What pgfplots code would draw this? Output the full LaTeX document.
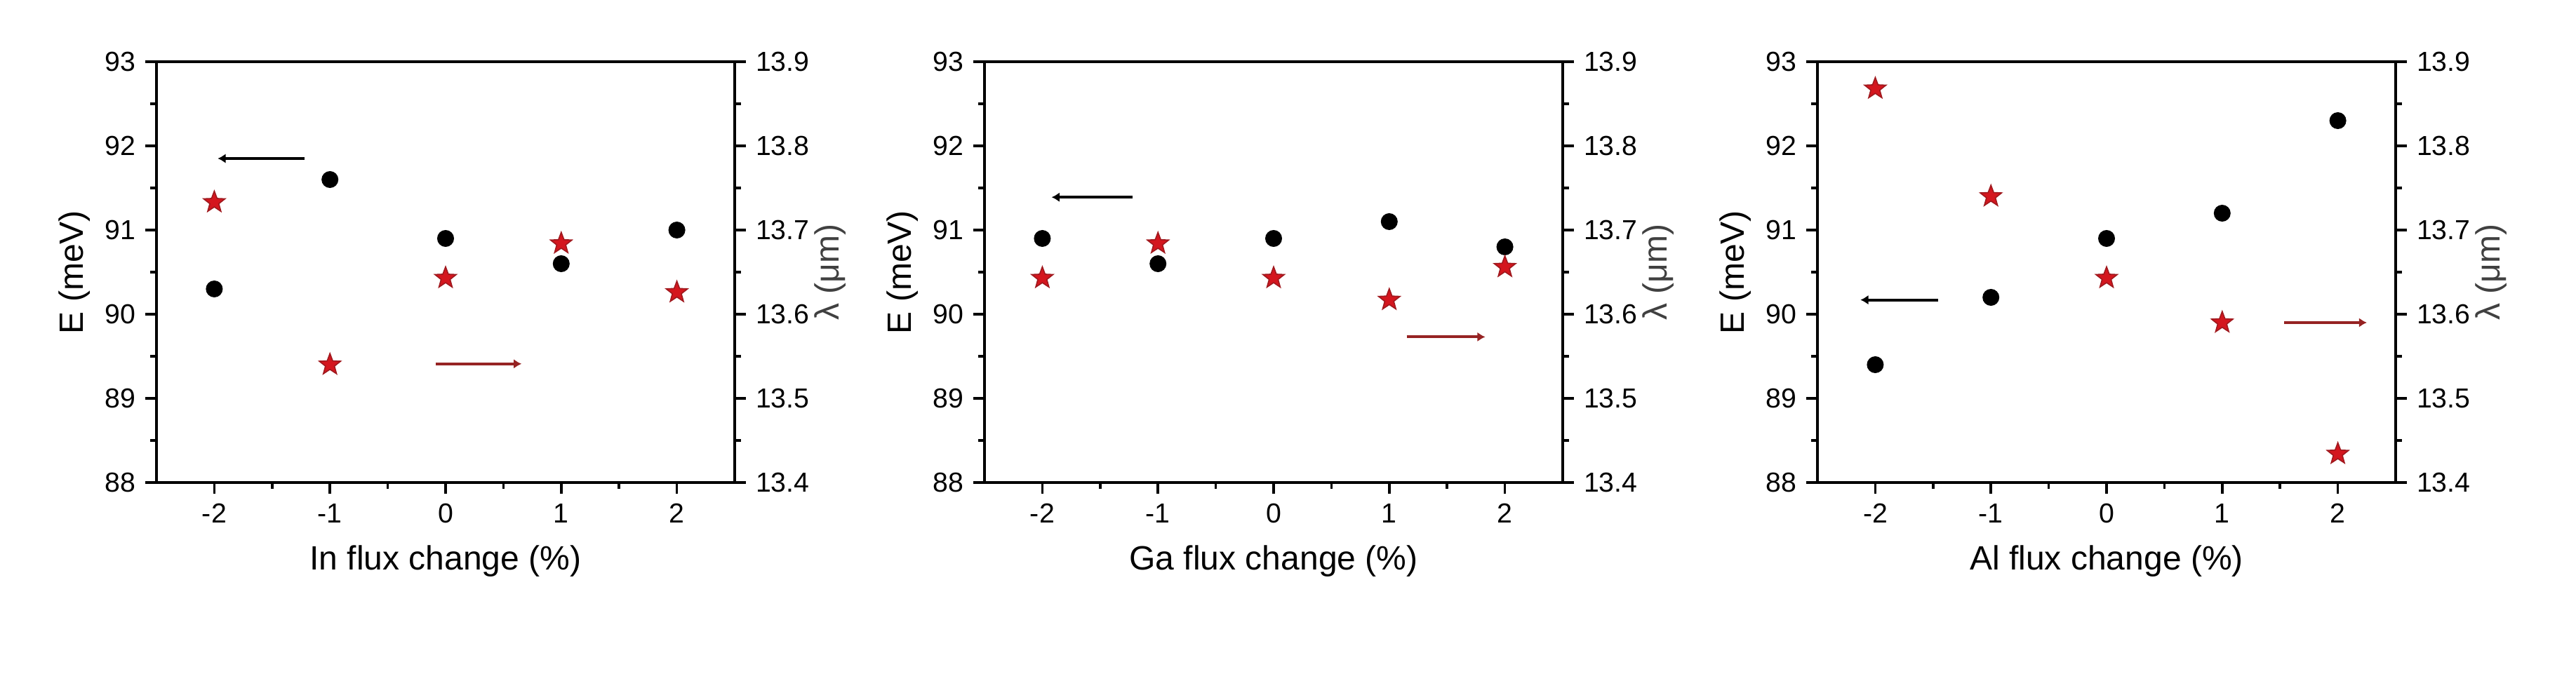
\documentclass[border=0pt]{standalone}
\usepackage{fontspec}
\setmainfont{Liberation Sans}
\usepackage{pgfplots}
\pgfplotsset{compat=1.18}
\usetikzlibrary{arrows.meta}

\definecolor{starred}{RGB}{212,22,30}
\definecolor{stardraw}{RGB}{160,25,30}
\definecolor{arrred}{RGB}{150,35,35}

% filled five-pointed star
\pgfdeclareplotmark{fstar}{%
  \pgfpathmoveto{\pgfpointpolar{90}{\pgfplotmarksize}}%
  \pgfpathlineto{\pgfpointpolar{126}{0.42\pgfplotmarksize}}%
  \pgfpathlineto{\pgfpointpolar{162}{\pgfplotmarksize}}%
  \pgfpathlineto{\pgfpointpolar{198}{0.42\pgfplotmarksize}}%
  \pgfpathlineto{\pgfpointpolar{234}{\pgfplotmarksize}}%
  \pgfpathlineto{\pgfpointpolar{270}{0.42\pgfplotmarksize}}%
  \pgfpathlineto{\pgfpointpolar{306}{\pgfplotmarksize}}%
  \pgfpathlineto{\pgfpointpolar{342}{0.42\pgfplotmarksize}}%
  \pgfpathlineto{\pgfpointpolar{18}{\pgfplotmarksize}}%
  \pgfpathlineto{\pgfpointpolar{54}{0.42\pgfplotmarksize}}%
  \pgfpathclose
  \pgfusepathqfillstroke}

\pgfplotsset{
  base/.style={
    scale only axis, width=206pt, height=150pt, anchor=south west,
    xmin=-2.5, xmax=2.5, clip=false,
    tick align=outside, minor tick num=1,
    major tick length=4pt, minor tick length=2.2pt,
    every tick/.style={black, line width=0.9pt},
    axis line style={line width=0.9pt},
    /pgf/number format/assume math mode=true,
    ticklabel style={font=\fontsize{9.8}{11}\selectfont},
    label style={font=\fontsize{12}{14}\selectfont},
  },
  leftax/.style={base,
    ymin=88, ymax=93, ytick={88,89,...,93},
    xtick={-2,-1,0,1,2},
    xtick pos=left, ytick pos=left,
    ylabel={E (meV)},
    ylabel style={at={(axis description cs:-0.142,0.5)}, anchor=center},
    xlabel style={at={(axis description cs:0.5,-0.208)}, anchor=base},
  },
  rightax/.style={base,
    axis y line*=right, axis x line=none,
    ymin=13.4, ymax=13.9, ytick={13.4,13.5,13.6,13.7,13.8,13.9},
    yticklabel style={/pgf/number format/.cd, fixed, fixed zerofill, precision=1},
    ylabel={λ (μm)},
    ylabel style={at={(axis description cs:1.165,0.5)}, anchor=center,
      text=black!75},
  },
  emark/.style={only marks, mark=*, mark size=2.8pt, black},
  lmark/.style={only marks, mark=fstar, mark size=4pt,
    mark options={fill=starred, draw=stardraw, line width=0.4pt}},
  larr/.style={black, line width=1pt, -{Latex[length=2.8pt,width=3.4pt]}},
  rarr/.style={arrred, line width=1pt, -{Latex[length=2.8pt,width=3.4pt]}},
}

\begin{document}
\begin{tikzpicture}
\path[use as bounding box] (0,0) rectangle (917.75pt,242.75pt);

% ---- In flux ----
\begin{axis}[leftax, at={(55.75pt,70.75pt)}, xlabel={In flux change (\%)}]
  \addplot[emark] coordinates {(-2,90.3) (-1,91.6) (0,90.9) (1,90.6) (2,91.0)};
  \addplot[larr] coordinates {(-1.22,91.85) (-1.97,91.85)};
\end{axis}
\begin{axis}[rightax, at={(55.75pt,70.75pt)}]
  \addplot[lmark] coordinates {(-2,13.733) (-1,13.540) (0,13.643) (1,13.684) (2,13.626)};
  \addplot[rarr] coordinates {(-0.085,13.541) (0.657,13.541)};
\end{axis}

% ---- Ga flux ----
\begin{axis}[leftax, at={(350.75pt,70.75pt)}, xlabel={Ga flux change (\%)}]
  \addplot[emark] coordinates {(-2,90.9) (-1,90.6) (0,90.9) (1,91.1) (2,90.8)};
  \addplot[larr] coordinates {(-1.22,91.39) (-1.92,91.39)};
\end{axis}
\begin{axis}[rightax, at={(350.75pt,70.75pt)}]
  \addplot[lmark] coordinates {(-2,13.643) (-1,13.684) (0,13.643) (1,13.617) (2,13.656)};
  \addplot[rarr] coordinates {(1.15,13.573) (1.83,13.573)};
\end{axis}

% ---- Al flux ----
\begin{axis}[leftax, at={(647.5pt,70.75pt)}, xlabel={Al flux change (\%)}]
  \addplot[emark] coordinates {(-2,89.4) (-1,90.2) (0,90.9) (1,91.2) (2,92.3)};
  \addplot[larr] coordinates {(-1.456,90.17) (-2.128,90.17)};
\end{axis}
\begin{axis}[rightax, at={(647.5pt,70.75pt)}]
  \addplot[lmark] coordinates {(-2,13.868) (-1,13.740) (0,13.643) (1,13.590) (2,13.434)};
  \addplot[rarr] coordinates {(1.536,13.59) (2.251,13.59)};
\end{axis}
\end{tikzpicture}
\end{document}
